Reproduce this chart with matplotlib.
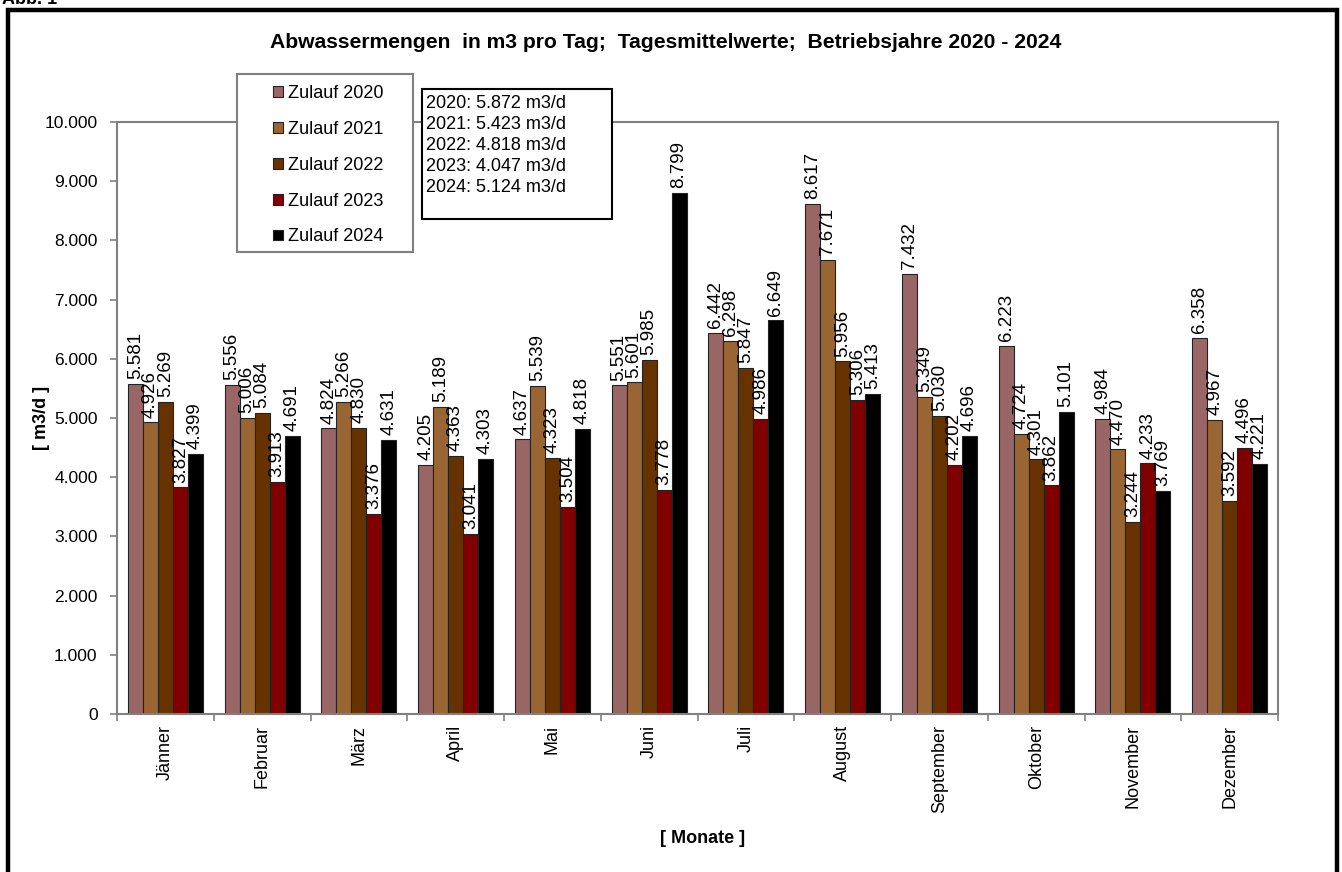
import numpy as np
import matplotlib.pyplot as plt
from matplotlib.patches import Rectangle
from matplotlib.ticker import FuncFormatter, FixedLocator

plt.rcParams['font.family'] = ['Liberation Sans', 'DejaVu Sans']

months = ["Jänner", "Februar", "März", "April", "Mai", "Juni", "Juli",
          "August", "September", "Oktober", "November", "Dezember"]
series = ["Zulauf 2020", "Zulauf 2021", "Zulauf 2022", "Zulauf 2023", "Zulauf 2024"]
z2020 = [5581, 5556, 4824, 4205, 4637, 5551, 6442, 8617, 7432, 6223, 4984, 6358]
z2021 = [4926, 5006, 5266, 5189, 5539, 5601, 6298, 7671, 5349, 4724, 4470, 4967]
z2022 = [5269, 5084, 4830, 4363, 4323, 5985, 5847, 5956, 5030, 4301, 3244, 3592]
z2023 = [3827, 3913, 3376, 3041, 3504, 3778, 4986, 5306, 4202, 3862, 4233, 4496]
z2024 = [4399, 4691, 4631, 4303, 4818, 8799, 6649, 5413, 4696, 5101, 3769, 4221]
years = [2020, 2021, 2022, 2023, 2024]
averages = [5872, 5423, 4818, 4047, 5124]

colors = ["#996666", "#996633", "#663300", "#800000", "#000000"]


def fmt(v):
    return f"{int(v):,}".replace(",", ".")


W, H = 1342, 872
fig = plt.figure(figsize=(W / 100, H / 100), dpi=100)
ax = fig.add_axes([117 / W, 1 - 714 / H, (1278 - 117) / W, (714 - 122) / H])

x = np.arange(len(months))
bw = 0.155
data = [z2020, z2021, z2022, z2023, z2024]
handles = []
for i, vals in enumerate(data):
    off = (i - 2) * bw
    b = ax.bar(x + off, vals, width=bw, color=colors[i], edgecolor="#222222",
               linewidth=0.8, label=series[i], zorder=2)
    handles.append(b)
    for xi, v in zip(x + off, vals):
        ax.annotate(fmt(v), (xi, v), xytext=(0, 3.5), textcoords="offset points",
                    rotation=90, ha="center", va="bottom", fontsize=13.5,
                    color="black", zorder=3)

ax.set_xlim(-0.5, len(months) - 0.5)
ax.set_ylim(0, 10000)
ax.set_yticks(np.arange(0, 10001, 1000))
ax.yaxis.set_major_formatter(FuncFormatter(lambda v, p: fmt(v)))
ax.set_xticks(x)
ax.set_xticklabels(months, rotation=90, fontsize=13, va="top")
ax.xaxis.set_minor_locator(FixedLocator(np.arange(-0.5, len(months), 1.0)))
ax.tick_params(axis="x", which="major", length=0, pad=8)
ax.tick_params(axis="x", which="minor", length=5, color="#808080", width=1.2)
ax.tick_params(axis="y", length=5, color="#808080", width=1.2, pad=9, labelsize=12.5)
for s in ax.spines.values():
    s.set_color("#808080")
    s.set_linewidth(1.5)

# axis titles and chart title
fig.text(666 / W, 1 - 43 / H, "Abwassermengen  in m3 pro Tag;  Tagesmittelwerte;  Betriebsjahre 2020 - 2024",
         ha="center", va="center", fontsize=15.2, fontweight="bold")
fig.text(42 / W, 1 - 418 / H, "[ m3/d ]", rotation=90, ha="center", va="center",
         fontsize=13, fontweight="bold")
fig.text(703 / W, 1 - 838 / H, "[ Monate ]", ha="center", va="center",
         fontsize=13, fontweight="bold")
fig.text(2 / W, 1 - 4 / H, "Abb. 1", ha="left", va="baseline", fontsize=13, fontweight="bold")

# outer frame
fig.patches.append(Rectangle((8 / W, -0.1), (1337 - 8) / W, 1.1 - 10 / H,
                             transform=fig.transFigure, fill=False,
                             edgecolor="black", linewidth=3.2))

# legend
fig.patches.append(Rectangle((237 / W, 1 - 252 / H), (413 - 237) / W, (252 - 74) / H,
                             transform=fig.transFigure, facecolor="white",
                             edgecolor="#808080", linewidth=1.5, zorder=5))
leg = fig.legend(handles=handles, labels=series, loc="upper left",
                 bbox_to_anchor=(266 / W, 1 - 78 / H), frameon=False,
                 fontsize=13, handlelength=0.55, handleheight=0.55,
                 handletextpad=0.25, labelspacing=1.04, borderaxespad=0)
leg.set_zorder(6)

# averages box
fig.patches.append(Rectangle((422 / W, 1 - 219 / H), (612 - 422) / W, (219 - 89) / H,
                             transform=fig.transFigure, facecolor="white",
                             edgecolor="black", linewidth=1.5, zorder=5))
avg_text = "\n".join(f"{y}: {fmt(a)} m3/d" for y, a in zip(years, averages))
fig.text(426 / W, 1 - 95 / H, avg_text, ha="left", va="top", fontsize=13,
         linespacing=1.3, zorder=6)

fig.savefig("out.png", dpi=100)
